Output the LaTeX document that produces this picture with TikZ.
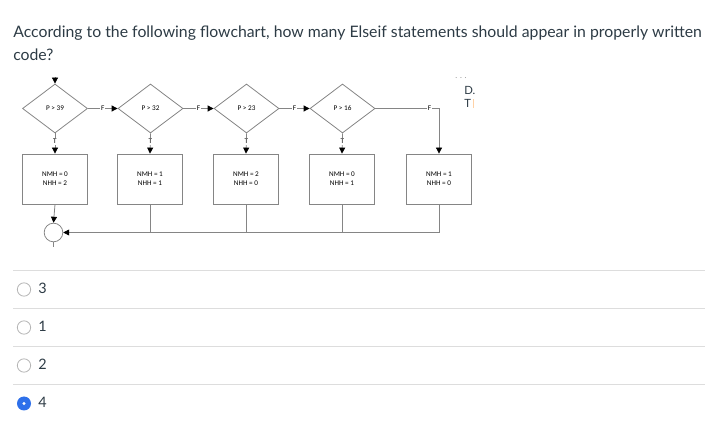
\documentclass[tikz,border=0pt]{standalone}
\usepackage{fontspec}
\setmainfont{Lato}
\newfontfamily\chartfont{Carlito}
\usetikzlibrary{shapes.geometric,arrows.meta}
\definecolor{canvastext}{HTML}{2D3B45}
\definecolor{rulegray}{HTML}{DDDDDD}
\definecolor{chartgray}{HTML}{858585}
\definecolor{radioblue}{HTML}{2E70EA}
\definecolor{radiogray}{HTML}{B5B5B5}
\definecolor{tipgray}{HTML}{8A8A8A}
\tikzset{
	decision/.style={diamond,draw=chartgray,line width=0.6pt,aspect=1.33,minimum width=48.75pt,minimum height=36.75pt,inner sep=0pt,font=\chartfont\fontsize{5.4}{6}\selectfont},
	assign/.style={rectangle,draw=chartgray,line width=0.6pt,minimum width=48.75pt,minimum height=37.5pt,inner sep=0pt,align=center,font=\chartfont\fontsize{5.4}{6.8}\selectfont},
	flow/.style={draw=chartgray,line width=0.6pt,-{Triangle[black,length=4.5pt,width=4.5pt]}},
	tf/.style={fill=white,inner sep=0.6pt,font=\chartfont\fontsize{5.4}{6}\selectfont},
	answer/.style={anchor=base west,inner sep=0pt,text=canvastext,font=\fontsize{10.8}{13}\selectfont},
	question/.style={anchor=base west,inner sep=0pt,text=canvastext,font=\fontsize{11.85}{14}\selectfont}
}
\begin{document}
\begin{tikzpicture}[x=0.75pt,y=-0.75pt]
	\useasboundingbox (0,0) rectangle (721,434);
	% question
	\node[question] (q1) at (13,37.5) {According to the following flowchart, how many Elseif statements should appear in properly written};
	\node[question] (q2) at (13,61) {code?};
	% flowchart
	\node[decision] (d1) at (55,108.5) {P > 39};
	\node[decision] (d2) at (150.5,108.5) {P > 32};
	\node[decision] (d3) at (246.5,108.5) {P > 23};
	\node[decision] (d4) at (342.5,108.5) {P > 16};
	\node[assign] (b1) at (55,179) {NMH = 0\\NHH = 2};
	\node[assign] (b2) at (150,179) {NMH = 1\\NHH = 1};
	\node[assign] (b3) at (246,179) {NMH = 2\\NHH = 0};
	\node[assign] (b4) at (342,179) {NMH = 0\\NHH = 1};
	\node[assign] (b5) at (439,179) {NMH = 1\\NHH = 0};
	\node[circle,draw=chartgray,line width=0.6pt,minimum size=14pt,inner sep=0pt] (join) at (53.5,232.5) {};
	\coordinate (start) at (55,77);
	\coordinate (corner) at (439,108.5);
	\coordinate (tail) at (53.5,247);
	\draw[flow] (start) -- (d1);
	\draw[flow] (d1) -- node[tf] {F} (d2);
	\draw[flow] (d2) -- node[tf] {F} (d3);
	\draw[flow] (d3) -- node[tf] {F} (d4);
	\draw[draw=chartgray,line width=0.6pt] (d4.east) -- node[tf,pos=0.85] {F} (corner);
	\draw[flow] (corner) -- (b5.north);
	\draw[flow] (d1.south) -- node[tf,pos=0.4] {T} (b1.north);
	\draw[flow] (d2.south) -- node[tf,pos=0.4] {T} (b2.north);
	\draw[flow] (d3.south) -- node[tf,pos=0.4] {T} (b3.north);
	\draw[flow] (d4.south) -- node[tf,pos=0.4] {T} (b4.north);
	\draw[flow] (b1.south) -- (join.north);
	\draw[flow] (b5.south) |- (join.east);
	\draw[draw=chartgray,line width=0.6pt] (b2.south) -- (b2.south |- join.east);
	\draw[draw=chartgray,line width=0.6pt] (b3.south) -- (b3.south |- join.east);
	\draw[draw=chartgray,line width=0.6pt] (b4.south) -- (b4.south |- join.east);
	\draw[draw=chartgray,line width=0.5pt] (join.south) -- (tail);
	% cut-off text at the right
	\node[inner sep=0pt,text=tipgray,font=\fontsize{6}{6}\selectfont] (dots) at (461,78) {. . .};
	\node[anchor=west,inner sep=0pt,text=canvastext,font=\fontsize{8.5}{9}\selectfont] (dd) at (464,90.5) {D.};
	\node[anchor=west,inner sep=0pt,text=canvastext,font=\fontsize{8.5}{9}\selectfont] (tt) at (464,103.5) {T};
	\fill[orange!35] (472.5,99) rectangle (474,108);
	% answers
	\foreach \ly in {270.5,308.5,346.5,384.5}
		\draw[rulegray,line width=0.75pt] (13,\ly) -- (705,\ly);
	\node[circle,draw=radiogray,line width=0.6pt,minimum size=10pt,inner sep=0pt] (r1) at (24,289.5) {};
	\node[circle,draw=radiogray,line width=0.6pt,minimum size=10pt,inner sep=0pt] (r2) at (24,327.5) {};
	\node[circle,draw=radiogray,line width=0.6pt,minimum size=10pt,inner sep=0pt] (r3) at (24,365.5) {};
	\node[circle,fill=radioblue,minimum size=10.5pt,inner sep=0pt] (r4) at (24,403.5) {};
	\fill[white] (r4) circle (1.3pt);
	\node[answer] (a1) at (38,293.5) {3};
	\node[answer] (a2) at (38,331.5) {1};
	\node[answer] (a3) at (38,369.5) {2};
	\node[answer] (a4) at (38,407.5) {4};
\end{tikzpicture}
\end{document}
